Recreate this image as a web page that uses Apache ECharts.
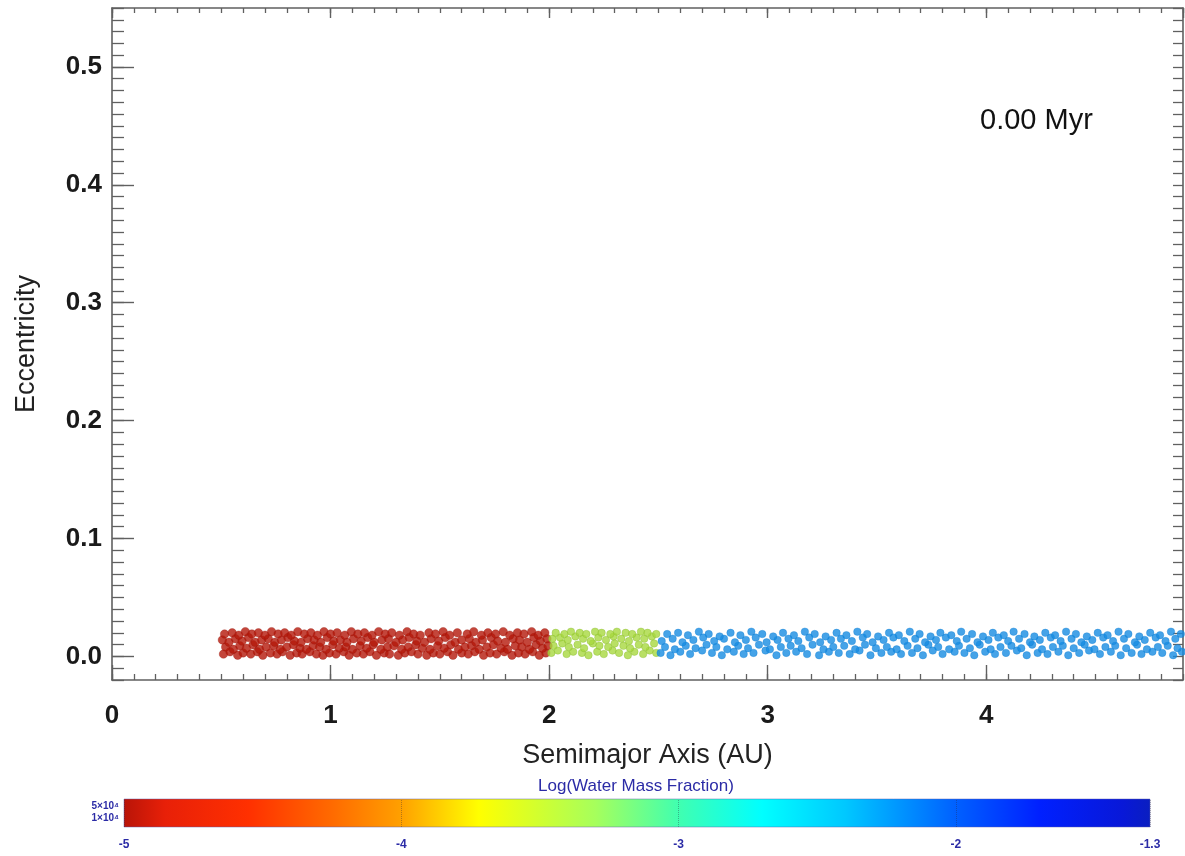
<!DOCTYPE html>
<html>
<head>
<meta charset="utf-8">
<script src="https://cdn.jsdelivr.net/npm/echarts@6/dist/echarts.min.js"></script>
<style>
html,body{margin:0;padding:0;background:#fff;}
#chart{width:1185px;height:856px;}
</style>
</head>
<body>
<div id="chart"></div>
<script>
// ---- data ----
const timeLabel = '0.00 Myr';
const xTitle = 'Semimajor Axis (AU)';
const yTitle = 'Eccentricity';
const cbTitle = 'Log(Water Mass Fraction)';
const xRange = [0, 4.9];
const yRange = [-0.02, 0.55];
const yMajorTicks = [0, 0.1, 0.2, 0.3, 0.4, 0.5];
const cbRange = [-5, -1.3];
const cbStops  = [-5.0, -4.85, -4.55, -4.25, -4.0, -3.72, -3.3, -3.0, -2.7, -2.4, -2.0, -1.7, -1.4, -1.3];
const cbColors = ['#b81408', '#e82008', '#ff3000', '#ff6a00', '#ffa000', '#ffff00', '#a6ff5c', '#40ffb0', '#00ffff', '#00c8ff', '#0060ff', '#0020ff', '#0818d8', '#0a1ec0'];
const massLabels = ['5×10⁴', '1×10⁴'];

// dry bodies (inside 2 AU)
const redPts = [
[0.51,0.002],[0.54,0.004],[0.575,0.001],[0.60,0.003],[0.635,0.002],[0.665,0.004],[0.69,0.001],[0.725,0.003],[0.755,0.002],[0.78,0.004],[0.815,0.001],[0.845,0.003],[0.87,0.002],[0.905,0.004],[0.935,0.002],[0.965,0.001],[0.995,0.003],[1.025,0.002],[1.06,0.004],[1.085,0.001],[1.12,0.003],[1.15,0.002],[1.18,0.004],[1.21,0.001],[1.245,0.003],[1.27,0.002],[1.31,0.001],[1.34,0.003],[1.37,0.004],[1.40,0.002],[1.44,0.001],[1.47,0.003],[1.50,0.002],[1.535,0.004],[1.56,0.001],[1.60,0.003],[1.63,0.002],[1.66,0.004],[1.70,0.001],[1.73,0.003],[1.76,0.002],[1.795,0.004],[1.83,0.001],[1.86,0.003],[1.89,0.002],[1.925,0.004],[1.955,0.001],[1.985,0.003],
[0.52,0.008],[0.555,0.006],[0.585,0.009],[0.615,0.007],[0.645,0.010],[0.675,0.006],[0.705,0.008],[0.74,0.009],[0.77,0.006],[0.80,0.008],[0.83,0.010],[0.86,0.007],[0.89,0.006],[0.92,0.009],[0.95,0.008],[0.98,0.006],[1.01,0.010],[1.04,0.007],[1.07,0.008],[1.10,0.006],[1.135,0.009],[1.165,0.007],[1.195,0.010],[1.23,0.006],[1.26,0.008],[1.29,0.009],[1.325,0.006],[1.355,0.008],[1.39,0.010],[1.42,0.007],[1.455,0.006],[1.49,0.009],[1.52,0.007],[1.55,0.010],[1.585,0.006],[1.615,0.008],[1.645,0.009],[1.68,0.006],[1.715,0.008],[1.745,0.010],[1.78,0.007],[1.81,0.006],[1.845,0.009],[1.875,0.008],[1.91,0.006],[1.94,0.010],[1.97,0.007],[1.995,0.009],
[0.505,0.014],[0.535,0.012],[0.565,0.015],[0.595,0.013],[0.625,0.016],[0.655,0.012],[0.685,0.014],[0.715,0.015],[0.745,0.012],[0.775,0.014],[0.805,0.016],[0.835,0.013],[0.865,0.012],[0.895,0.015],[0.925,0.014],[0.955,0.012],[0.985,0.016],[1.015,0.013],[1.045,0.014],[1.075,0.012],[1.105,0.015],[1.14,0.013],[1.17,0.016],[1.20,0.012],[1.235,0.014],[1.265,0.015],[1.30,0.012],[1.33,0.014],[1.36,0.016],[1.395,0.013],[1.43,0.012],[1.46,0.015],[1.495,0.013],[1.525,0.016],[1.57,0.012],[1.60,0.014],[1.635,0.015],[1.665,0.012],[1.695,0.014],[1.735,0.016],[1.765,0.013],[1.80,0.012],[1.835,0.015],[1.865,0.014],[1.90,0.012],[1.93,0.016],[1.96,0.013],[1.99,0.015],
[0.515,0.019],[0.55,0.020],[0.58,0.018],[0.61,0.021],[0.64,0.019],[0.67,0.020],[0.70,0.018],[0.73,0.021],[0.76,0.019],[0.79,0.020],[0.82,0.018],[0.85,0.021],[0.88,0.019],[0.91,0.020],[0.94,0.018],[0.97,0.021],[1.00,0.019],[1.03,0.020],[1.065,0.018],[1.095,0.021],[1.125,0.019],[1.155,0.020],[1.19,0.018],[1.22,0.021],[1.25,0.019],[1.28,0.020],[1.315,0.018],[1.35,0.021],[1.38,0.019],[1.41,0.018],[1.45,0.020],[1.48,0.019],[1.515,0.021],[1.545,0.018],[1.58,0.020],[1.625,0.019],[1.655,0.021],[1.69,0.018],[1.72,0.020],[1.755,0.019],[1.79,0.021],[1.82,0.018],[1.855,0.020],[1.885,0.019],[1.92,0.021],[1.95,0.018],[1.98,0.020]
];

// bodies between 2 and 2.5 AU
const greenPts = [
[2.01,0.003],[2.04,0.005],[2.08,0.002],[2.11,0.004],[2.15,0.003],[2.18,0.001],[2.22,0.004],[2.25,0.002],[2.29,0.005],[2.32,0.003],[2.36,0.001],[2.39,0.004],[2.43,0.002],[2.46,0.005],[2.49,0.003],
[2.02,0.009],[2.06,0.011],[2.09,0.008],[2.13,0.010],[2.16,0.007],[2.20,0.011],[2.23,0.009],[2.27,0.008],[2.30,0.011],[2.34,0.009],[2.37,0.007],[2.41,0.010],[2.44,0.008],[2.48,0.011],
[2.015,0.015],[2.05,0.016],[2.085,0.014],[2.12,0.017],[2.155,0.015],[2.19,0.013],[2.225,0.016],[2.26,0.014],[2.295,0.017],[2.33,0.015],[2.365,0.013],[2.40,0.016],[2.435,0.015],[2.47,0.017],
[2.03,0.020],[2.07,0.019],[2.10,0.021],[2.14,0.020],[2.17,0.019],[2.21,0.021],[2.24,0.020],[2.28,0.019],[2.31,0.021],[2.35,0.020],[2.38,0.019],[2.42,0.021],[2.45,0.020],[2.49,0.019]
];

// water-rich bodies beyond 2.5 AU
const bluePts = [
[2.51,0.003],[2.555,0.001],[2.60,0.004],[2.645,0.002],[2.70,0.005],[2.745,0.003],[2.79,0.001],[2.845,0.004],[2.89,0.002],[2.935,0.003],[2.99,0.005],[3.04,0.001],[3.085,0.003],[3.13,0.004],[3.18,0.002],[3.235,0.001],[3.28,0.004],[3.325,0.003],[3.375,0.002],[3.42,0.005],[3.47,0.001],[3.52,0.003],[3.565,0.004],[3.61,0.002],[3.66,0.003],[3.71,0.001],[3.755,0.005],[3.80,0.002],[3.855,0.004],[3.90,0.003],[3.945,0.001],[3.995,0.004],[4.04,0.002],[4.09,0.003],[4.14,0.005],[4.185,0.001],[4.235,0.003],[4.28,0.002],[4.33,0.004],[4.375,0.001],[4.425,0.003],[4.47,0.005],[4.52,0.002],[4.57,0.004],[4.615,0.001],[4.665,0.003],[4.71,0.002],[4.76,0.004],[4.805,0.003],[4.855,0.001],[4.895,0.004],
[2.53,0.008],[2.575,0.006],[2.625,0.009],[2.67,0.007],[2.72,0.010],[2.765,0.008],[2.815,0.006],[2.865,0.009],[2.91,0.007],[2.96,0.010],[3.01,0.006],[3.06,0.008],[3.105,0.009],[3.155,0.007],[3.205,0.010],[3.255,0.006],[3.30,0.008],[3.35,0.009],[3.40,0.006],[3.445,0.010],[3.495,0.007],[3.545,0.008],[3.59,0.006],[3.64,0.009],[3.685,0.007],[3.735,0.010],[3.78,0.008],[3.83,0.006],[3.875,0.009],[3.925,0.007],[3.97,0.010],[4.02,0.006],[4.065,0.008],[4.115,0.009],[4.16,0.007],[4.21,0.010],[4.255,0.006],[4.305,0.008],[4.35,0.009],[4.40,0.007],[4.45,0.010],[4.495,0.006],[4.545,0.008],[4.59,0.009],[4.64,0.007],[4.69,0.010],[4.735,0.006],[4.785,0.008],[4.83,0.009],[4.875,0.007],
[2.515,0.013],[2.565,0.015],[2.61,0.012],[2.66,0.014],[2.705,0.016],[2.755,0.013],[2.80,0.015],[2.85,0.012],[2.90,0.014],[2.945,0.016],[2.995,0.012],[3.045,0.014],[3.095,0.015],[3.14,0.013],[3.19,0.016],[3.24,0.012],[3.29,0.014],[3.335,0.015],[3.385,0.013],[3.435,0.016],[3.48,0.012],[3.53,0.014],[3.575,0.016],[3.625,0.013],[3.675,0.015],[3.72,0.012],[3.77,0.014],[3.815,0.016],[3.865,0.013],[3.91,0.015],[3.96,0.012],[4.01,0.014],[4.055,0.016],[4.10,0.013],[4.15,0.015],[4.20,0.012],[4.245,0.014],[4.295,0.016],[4.34,0.013],[4.39,0.015],[4.435,0.012],[4.485,0.014],[4.535,0.016],[4.58,0.013],[4.63,0.015],[4.68,0.012],[4.725,0.014],[4.775,0.016],[4.82,0.013],[4.865,0.015],
[2.54,0.019],[2.59,0.020],[2.635,0.018],[2.685,0.021],[2.73,0.019],[2.78,0.017],[2.83,0.020],[2.875,0.018],[2.925,0.021],[2.975,0.019],[3.025,0.017],[3.07,0.020],[3.12,0.018],[3.17,0.021],[3.215,0.019],[3.265,0.017],[3.315,0.020],[3.36,0.018],[3.41,0.021],[3.455,0.019],[3.505,0.017],[3.555,0.020],[3.60,0.018],[3.65,0.021],[3.695,0.019],[3.745,0.017],[3.79,0.020],[3.84,0.018],[3.885,0.021],[3.935,0.019],[3.985,0.017],[4.03,0.020],[4.08,0.018],[4.125,0.021],[4.175,0.019],[4.22,0.017],[4.27,0.020],[4.315,0.018],[4.365,0.021],[4.41,0.019],[4.46,0.017],[4.51,0.020],[4.555,0.018],[4.605,0.021],[4.65,0.019],[4.70,0.017],[4.75,0.020],[4.795,0.018],[4.845,0.021],[4.89,0.019]
];

// ---- chart ----
const FONT = '"Liberation Sans", Arial, Helvetica, sans-serif';
const AX = '#606060';
const CB_TEXT = '#2b2ba6';
const plotRect = {left: 112, top: 8, width: 1071, height: 672};

function line(show) {
  return {show: show, onZero: false, lineStyle: {color: AX, width: 1.6}};
}
function baseAxis(extra) {
  return Object.assign({
    type: 'value',
    axisLine: line(false),
    axisTick: {show: false},
    axisLabel: {show: false},
    splitLine: {show: false}
  }, extra);
}

const chart = echarts.init(document.getElementById('chart'), null, {renderer: 'canvas'});
const option = {
  animation: false,
  backgroundColor: '#ffffff',
  title: {
    text: timeLabel, left: 975, top: 101,
    textStyle: {fontFamily: FONT, fontSize: 29, fontWeight: 'normal', color: '#111'}
  },
  grid: [
    Object.assign({outerBoundsMode: 'none', containLabel: false}, plotRect),
    Object.assign({outerBoundsMode: 'none', containLabel: false}, plotRect),
    {left: 124, top: 799, width: 1026, height: 28, outerBoundsMode: 'none', containLabel: false}
  ],
  xAxis: [
    baseAxis({gridIndex: 0, position: 'bottom', min: xRange[0], max: xRange[1], interval: 1,
      name: xTitle, nameLocation: 'middle', nameGap: 62,
      nameTextStyle: {fontFamily: FONT, fontSize: 27, color: '#222'},
      axisLine: line(true),
      axisTick: {show: true, inside: true, length: 15, lineStyle: {color: AX, width: 1.4}},
      axisLabel: {show: true, margin: 23, fontFamily: FONT, fontSize: 26, fontWeight: 'bold', color: '#1a1a1a',
        showMaxLabel: false, formatter: v => String(v)}
    }),
    baseAxis({gridIndex: 0, position: 'top', min: xRange[0], max: xRange[1], interval: 1,
      axisLine: line(true),
      axisTick: {show: true, inside: true, length: 10, lineStyle: {color: AX, width: 1.4}}
    }),
    baseAxis({gridIndex: 1, position: 'bottom', min: xRange[0], max: xRange[1], interval: 0.1,
      axisTick: {show: true, inside: true, length: 6, lineStyle: {color: AX, width: 1.3}}
    }),
    baseAxis({gridIndex: 1, position: 'top', min: xRange[0], max: xRange[1], interval: 0.1,
      axisTick: {show: true, inside: true, length: 5, lineStyle: {color: AX, width: 1.3}}
    }),
    baseAxis({gridIndex: 2, position: 'bottom', min: cbRange[0], max: cbRange[1], interval: 1, z: 5,
      axisTick: {show: true, inside: true, length: 28, lineStyle: {color: 'rgba(40,40,60,0.35)', width: 1, type: 'dotted'}},
      axisLabel: {show: true, margin: 12, fontFamily: FONT, fontSize: 12, fontWeight: 'bold', color: CB_TEXT,
        formatter: v => String(Math.round(v * 10) / 10)}
    })
  ],
  yAxis: [
    baseAxis({gridIndex: 0, position: 'left', min: yRange[0], max: yRange[1],
      name: yTitle, nameLocation: 'middle', nameGap: 72,
      nameTextStyle: {fontFamily: FONT, fontSize: 27, color: '#222'},
      axisLine: line(true),
      axisTick: {show: true, inside: true, length: 22, customValues: yMajorTicks, lineStyle: {color: AX, width: 1.4}},
      axisLabel: {show: true, margin: 10, customValues: yMajorTicks, fontFamily: FONT, fontSize: 26, fontWeight: 'bold', color: '#1a1a1a',
        formatter: v => Number(v).toFixed(1)}
    }),
    baseAxis({gridIndex: 0, position: 'right', min: yRange[0], max: yRange[1], interval: 0.01,
      axisLine: line(true),
      axisTick: {show: true, inside: true, length: 10, lineStyle: {color: AX, width: 1.3}}
    }),
    baseAxis({gridIndex: 1, position: 'left', min: yRange[0], max: yRange[1], interval: 0.01,
      axisTick: {show: true, inside: true, length: 12, lineStyle: {color: AX, width: 1.3}}
    }),
    baseAxis({gridIndex: 2, position: 'left', min: 0, max: 1})
  ],
  series: [
    {type: 'scatter', xAxisIndex: 0, yAxisIndex: 0, data: redPts, symbol: 'circle', symbolSize: 8.5,
      itemStyle: {color: '#b4180a', borderColor: '#961208', borderWidth: 0.4}, z: 3},
    {type: 'scatter', xAxisIndex: 0, yAxisIndex: 0, data: greenPts, symbol: 'circle', symbolSize: 7.5,
      itemStyle: {color: '#a8d83e', borderColor: '#82b22a', borderWidth: 0.4}, z: 3},
    {type: 'scatter', xAxisIndex: 0, yAxisIndex: 0, data: bluePts, symbol: 'circle', symbolSize: 7.5,
      itemStyle: {color: '#168ce2', borderColor: '#0c7acf', borderWidth: 0.4}, z: 3},
    {type: 'custom', xAxisIndex: 4, yAxisIndex: 3, silent: true, z: 1,
      data: [[cbRange[0], cbRange[1]]],
      encode: {x: 0},
      renderItem: function (params, api) {
        const p0 = api.coord([api.value(0), 0]);
        const p1 = api.coord([api.value(1), 1]);
        const w = p1[0] - p0[0];
        const stops = cbStops.map((v, i) => ({offset: Math.min(1, Math.max(0, (api.coord([v, 0])[0] - p0[0]) / w)), color: cbColors[i]}));
        return {
          type: 'rect',
          shape: {x: p0[0], y: p1[1], width: w, height: p0[1] - p1[1]},
          style: {fill: new echarts.graphic.LinearGradient(0, 0, 1, 0, stops), stroke: 'rgba(90,90,170,0.45)', lineWidth: 1}
        };
      }
    }
  ],
  graphic: [
    {type: 'text', x: 636, y: 786, style: {text: cbTitle, align: 'center', verticalAlign: 'middle', fill: CB_TEXT, font: '17px ' + FONT}},
    {type: 'text', x: 119, y: 806, style: {text: massLabels[0], align: 'right', verticalAlign: 'middle', fill: CB_TEXT, font: 'bold 10px ' + FONT}},
    {type: 'text', x: 119, y: 818, style: {text: massLabels[1], align: 'right', verticalAlign: 'middle', fill: CB_TEXT, font: 'bold 10px ' + FONT}}
  ]
};
chart.setOption(option);
</script>
</body>
</html>
